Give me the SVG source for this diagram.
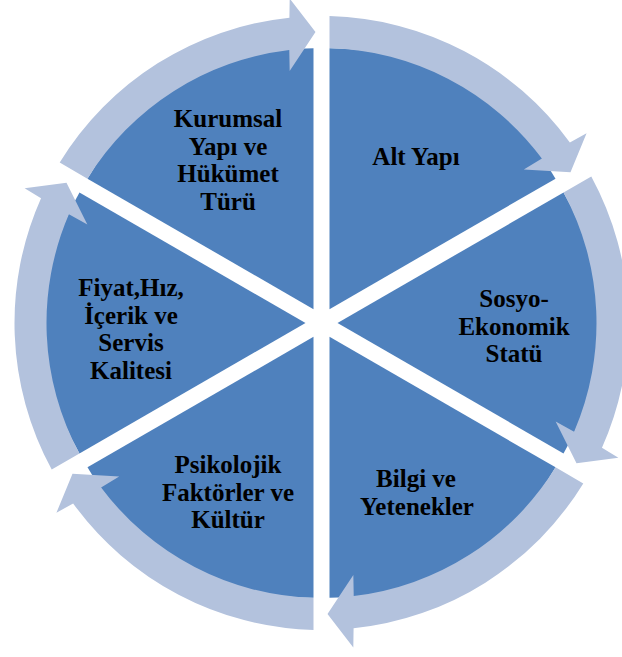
<svg xmlns="http://www.w3.org/2000/svg" xmlns:xlink="http://www.w3.org/1999/xlink" width="622" height="657" viewBox="0 0 622 657">
  <style>
    .wedge { fill: #4f81bd; }
    .arrow { fill: #b3c2dd; }
    .label { font-family: "Liberation Serif", "Times New Roman", serif; font-weight: bold; font-size: 25px; fill: #000000; text-anchor: middle; }
  </style>
  <defs>
    <!-- one exploded pie slice (0°..60°, clockwise from top), centred on the cycle centre -->
    <path id="slice" class="wedge" d="M8,-13.856 L8,-274.856 A261,261 0 0 1 234.03,-144.356 Z"/>
    <!-- one curved block arrow running clockwise along the outside of a slice -->
    <path id="curved-arrow" class="arrow" d="M8,-274.88 L8,-306.9 A307,307 0 0 1 248.37,-180.45 L265.07,-189.77 L249,-150.7 L202.32,-153.57 L220.4,-164.46 A275,275 0 0 0 8,-274.88 Z"/>
  </defs>

  <g transform="translate(321.5 323)">
    <g id="node-alt-yapi"><use xlink:href="#slice" href="#slice"/></g>
    <g id="node-sosyo-ekonomik"><use xlink:href="#slice" href="#slice" transform="rotate(60)"/></g>
    <g id="node-bilgi-yetenek"><use xlink:href="#slice" href="#slice" transform="rotate(120)"/></g>
    <g id="node-psikolojik"><use xlink:href="#slice" href="#slice" transform="rotate(180)"/></g>
    <g id="node-fiyat-hiz"><use xlink:href="#slice" href="#slice" transform="rotate(240)"/></g>
    <g id="node-kurumsal"><use xlink:href="#slice" href="#slice" transform="rotate(300)"/></g>

    <g id="connectors">
      <use xlink:href="#curved-arrow" href="#curved-arrow"/>
      <use xlink:href="#curved-arrow" href="#curved-arrow" transform="rotate(60)"/>
      <use xlink:href="#curved-arrow" href="#curved-arrow" transform="rotate(120)"/>
      <use xlink:href="#curved-arrow" href="#curved-arrow" transform="rotate(180)"/>
      <use xlink:href="#curved-arrow" href="#curved-arrow" transform="rotate(240)"/>
      <use xlink:href="#curved-arrow" href="#curved-arrow" transform="rotate(300)"/>
    </g>
  </g>

  <g id="labels">
    <text class="label" x="416" y="165">Alt Yapı</text>
    <text class="label" x="514"><tspan x="514" y="307">Sosyo-</tspan><tspan x="514" y="335">Ekonomik</tspan><tspan x="514" y="362">Statü</tspan></text>
    <text class="label"><tspan x="416" y="487">Bilgi ve</tspan><tspan x="417" y="515">Yetenekler</tspan></text>
    <text class="label"><tspan x="228" y="473">Psikolojik</tspan><tspan x="228" y="500.5">Faktörler ve</tspan><tspan x="228" y="528">Kültür</tspan></text>
    <text class="label"><tspan x="131" y="296">Fiyat,Hız,</tspan><tspan x="131" y="323.5">İçerik ve</tspan><tspan x="131" y="351">Servis</tspan><tspan x="131" y="378.5">Kalitesi</tspan></text>
    <text class="label"><tspan x="228" y="127">Kurumsal</tspan><tspan x="228" y="154.7">Yapı ve</tspan><tspan x="228" y="182.3">Hükümet</tspan><tspan x="228" y="210">Türü</tspan></text>
  </g>
</svg>
